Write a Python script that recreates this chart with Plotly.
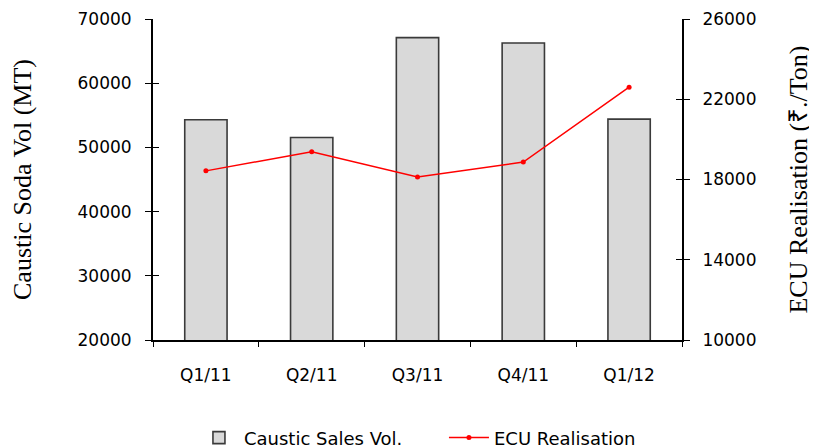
import plotly.graph_objects as go

categories = ["Q1/11", "Q2/11", "Q3/11", "Q4/11", "Q1/12"]
sales_vol = [54300, 51550, 67100, 66250, 54400]
ecu_realisation = [18430, 19380, 18120, 18870, 22600]
left_ticks = [20000, 30000, 40000, 50000, 60000, 70000]
left_ticktext = [str(v) for v in left_ticks]
right_ticks = [10000, 14000, 18000, 22000, 26000]
right_ticktext = [str(v) for v in right_ticks]

tick_font = dict(family="DejaVu Sans", size=17, color="#000000")
title_font = dict(family="Liberation Serif", size=26, color="#000000")

fig = go.Figure()
fig.add_trace(go.Bar(
    x=categories, y=sales_vol, name="Caustic Sales Vol.",
    marker=dict(color="#d9d9d9", line=dict(color="#3a3a3a", width=1.6)),
    width=0.4, yaxis="y",
))
fig.add_trace(go.Scatter(
    x=categories, y=ecu_realisation, name="ECU Realisation",
    mode="lines+markers", yaxis="y2",
    line=dict(color="#ff0000", width=1.5),
    marker=dict(color="#ff0000", size=5),
))
# helper traces so that overlay axes (inner halves of crossing ticks) render
fig.add_trace(go.Scatter(x=categories, y=[None]*5, yaxis="y3", showlegend=False, hoverinfo="skip"))
fig.add_trace(go.Scatter(x=categories, y=[None]*5, yaxis="y4", showlegend=False, hoverinfo="skip"))

fig.update_layout(
    width=817, height=447,
    margin=dict(l=145, r=143, t=11, b=115, autoexpand=False),
    plot_bgcolor="white", paper_bgcolor="white",
    showlegend=True,
    legend=dict(orientation="h", x=0.55, xanchor="center", y=-0.305, yanchor="middle",
                font=dict(family="DejaVu Sans", size=18, color="#000000"),
                itemwidth=40, entrywidth=195, tracegroupgap=0),
    xaxis=dict(
        range=[-0.5, 4.5], showline=True, linecolor="#000000", linewidth=2,
        ticks="outside", tickson="boundaries", ticklen=5, tickcolor="#000000", tickwidth=1,
        tickfont=tick_font, ticklabelstandoff=19, showgrid=False, zeroline=False,
        automargin=False,
    ),
    yaxis=dict(
        range=[20000, 70000], tickvals=left_ticks, ticktext=left_ticktext,
        showline=True, linecolor="#000000", linewidth=2,
        ticks="outside", ticklen=6, tickcolor="#000000", tickwidth=1,
        tickfont=tick_font, ticklabelstandoff=10, showgrid=False, zeroline=False,
        title=dict(text="Caustic Soda Vol (MT)", font=title_font, standoff=38),
        automargin=False,
    ),
    yaxis2=dict(
        range=[10000, 26000], tickvals=right_ticks, ticktext=right_ticktext,
        overlaying="y", side="right", anchor="x",
        showline=True, linecolor="#000000", linewidth=2,
        ticks="outside", ticklen=6, tickcolor="#000000", tickwidth=1,
        tickfont=tick_font, ticklabelstandoff=9, showgrid=False, zeroline=False,
        title=dict(text="ECU Realisation (₹./Ton)", font=title_font, standoff=33),
        automargin=False,
    ),
    yaxis3=dict(
        range=[20000, 70000], tickvals=left_ticks, overlaying="y", side="left", anchor="x",
        ticks="inside", ticklen=6, tickcolor="#000000", tickwidth=1,
        showticklabels=False, showgrid=False, zeroline=False, showline=False,
        automargin=False,
    ),
    yaxis4=dict(
        range=[10000, 26000], tickvals=right_ticks, overlaying="y", side="right", anchor="x",
        ticks="inside", ticklen=6, tickcolor="#000000", tickwidth=1,
        showticklabels=False, showgrid=False, zeroline=False, showline=False,
        automargin=False,
    ),
    bargap=0.6,
)

fig.write_html("out.html")
